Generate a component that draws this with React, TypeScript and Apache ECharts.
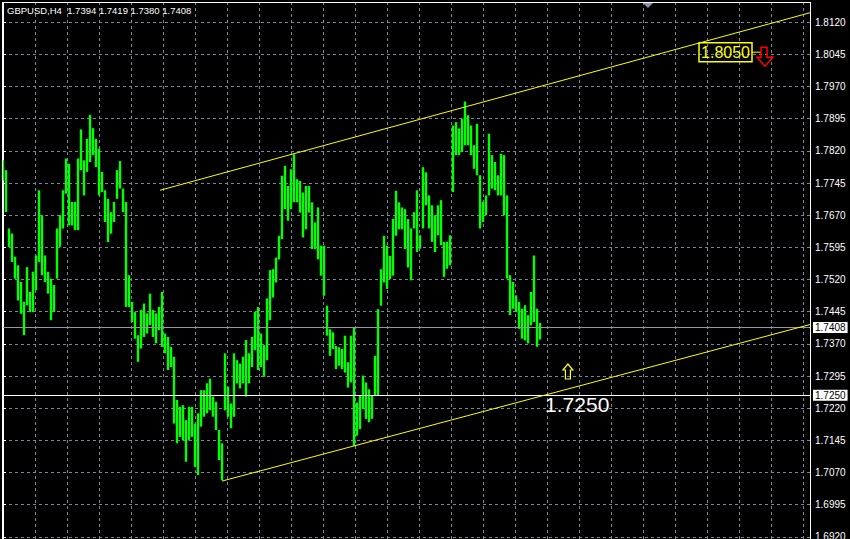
import React, { useEffect, useRef } from "react";
import * as echarts from "echarts";

// ---- data ----
const SYMBOL = "GBPUSD,H4";
const LAST_OHLC = [1.7394, 1.7419, 1.738, 1.7408];

// bar highs / lows (oldest -> newest)
const barHigh = [
  1.7798,
  1.7775, 1.7639, 1.7627, 1.7573, 1.7553, 1.7514, 1.7468, 1.7549, 1.7491,
  1.7538, 1.7576, 1.7728, 1.767, 1.7576, 1.7538, 1.7522, 1.7507, 1.7639, 1.767,
  1.7728, 1.7802, 1.779, 1.7701, 1.7701, 1.7802, 1.787, 1.7798, 1.7848, 1.7904,
  1.7873, 1.7848, 1.7825, 1.7771, 1.7728, 1.7708, 1.7677, 1.7701, 1.7775, 1.7796,
  1.7732, 1.7701, 1.753, 1.7468, 1.7444, 1.739,
  1.7449, 1.7464, 1.7441, 1.7487, 1.7449, 1.7441, 1.7456, 1.7491, 1.7394, 1.7386,
  1.7363, 1.734, 1.7239, 1.7223, 1.7227, 1.7192, 1.7223, 1.7223, 1.7184, 1.7208,
  1.7262, 1.7262, 1.7278, 1.7289, 1.7247, 1.7235, 1.7169, 1.7138, 1.7348, 1.727,
  1.7231, 1.7348, 1.7332, 1.7324, 1.734, 1.7379, 1.7348, 1.7386, 1.7445, 1.7456,
  1.7394, 1.7367, 1.7476, 1.7542,
  1.7544, 1.7571, 1.7622, 1.7762, 1.7785, 1.7738, 1.7777, 1.7812, 1.7754, 1.775,
  1.7723, 1.7738, 1.7738, 1.77, 1.7653, 1.7688, 1.7599, 1.7599, 1.7459, 1.7404,
  1.7397, 1.7365, 1.7362, 1.7358, 1.7389, 1.7327, 1.7389, 1.7408, 1.7233, 1.7249,
  1.7296, 1.728, 1.7264, 1.7249, 1.7342, 1.7451, 1.7544, 1.7622, 1.7599, 1.7575,
  1.7661, 1.7727, 1.77, 1.7688, 1.7684, 1.7661,
  1.7639, 1.7677, 1.7728, 1.7623, 1.7782, 1.777, 1.7716, 1.7693, 1.767, 1.7693,
  1.7705, 1.7608, 1.7608, 1.7623, 1.7879, 1.7887, 1.7872, 1.7895, 1.7935, 1.7903,
  1.7879, 1.7833, 1.7883, 1.7763, 1.7701, 1.7716, 1.786, 1.781, 1.7794, 1.7763,
  1.7813, 1.781, 1.7716, 1.753, 1.7514, 1.7483, 1.7468, 1.7452, 1.746, 1.7437,
  1.7491, 1.7576, 1.7452, 1.7419,
];
const barLow = [
  1.7751,
  1.7677, 1.7596, 1.7561, 1.7522, 1.7471, 1.744, 1.739, 1.746, 1.7444,
  1.7444, 1.7495, 1.7561, 1.753, 1.7514, 1.7487, 1.7425, 1.7444, 1.7522, 1.7596,
  1.7639, 1.772, 1.7646, 1.7646, 1.7635, 1.7635, 1.7775, 1.7716, 1.7771, 1.7794,
  1.781, 1.7782, 1.7716, 1.7724, 1.7654, 1.7607, 1.7627, 1.7654, 1.7708, 1.7732,
  1.7677, 1.7456, 1.7456, 1.7421, 1.7382, 1.7328,
  1.7359, 1.7386, 1.7394, 1.7414, 1.7386, 1.7371, 1.7402, 1.7363, 1.7348, 1.7309,
  1.7316, 1.7184, 1.7138, 1.7153, 1.7145, 1.7095, 1.7145, 1.7153, 1.7083, 1.7064,
  1.7177, 1.72, 1.7208, 1.7215, 1.72, 1.7169, 1.7099, 1.7052, 1.7215, 1.72,
  1.7173, 1.72, 1.7278, 1.7266, 1.7278, 1.7247, 1.7278, 1.7316, 1.7355, 1.7309,
  1.7316, 1.7293, 1.7332, 1.7425,
  1.7478, 1.7513, 1.7567, 1.7614, 1.7684, 1.7657, 1.7684, 1.77, 1.77, 1.7676,
  1.7618, 1.7637, 1.7676, 1.7591, 1.7591, 1.7567, 1.7529, 1.7482, 1.7389, 1.7342,
  1.7358, 1.7311, 1.7319, 1.7311, 1.7303, 1.7268, 1.728, 1.7132, 1.7156, 1.7171,
  1.7218, 1.7195, 1.7187, 1.7195, 1.7249, 1.7249, 1.7459, 1.7513, 1.7498, 1.7521,
  1.7529, 1.7622, 1.7637, 1.7637, 1.7591, 1.7548,
  1.7518, 1.7639, 1.7584, 1.7592, 1.7639, 1.7693, 1.7639, 1.7608, 1.7584, 1.7623,
  1.76, 1.7526, 1.7545, 1.7553, 1.7724, 1.781, 1.781, 1.7817, 1.7833, 1.7833,
  1.781, 1.7778, 1.7763, 1.7639, 1.7654, 1.767, 1.7716, 1.7732, 1.7728, 1.7716,
  1.7716, 1.767, 1.7522, 1.7437, 1.7452, 1.7444, 1.7405, 1.7382, 1.7378, 1.7371,
  1.7413, 1.7421, 1.7363, 1.738,
];

// price axis: tick step and range (range extends a step beyond the visible window)
const Y_STEP = 0.0075;
const Y_MIN = 1.6845;
const Y_MAX = 1.8195;
// time axis (in bars): grid every 32/3 bars
const X_STEP = 32 / 3;
const X_MAX = 269;

// objects on the chart (bar index, price)
const BID = 1.7408;
const LEVEL = 1.725;
const upperTrend = [[52.33, 1.7728], [269, 1.8142]];
const lowerTrend = [[73, 1.705], [269, 1.7415]];
const targetLabel = { text: "1.8050", bar: 232, price: 1.805 };
const levelText = { text: "1.7250", bar: 180.7, price: 1.725 };
const upArrow = { bar: 188.3, price: 1.7323 };

const FONT = "'Liberation Sans', Arial, sans-serif";
const GRID_COLOR = "#778899";
const OFF = 10; // the chart canvas starts 10px above the page
const CHART_H = 579;

export default function App() {
  const ref = useRef<HTMLDivElement>(null);
  useEffect(() => {
    const chart = echarts.init(ref.current!, null, { renderer: "svg" });
    const bars = barHigh.map((h, i) => [i, h, barLow[i]]);
    const splitLine = {
      show: true,
      showMinLine: false,
      showMaxLine: false,
      lineStyle: { color: GRID_COLOR, type: [3, 3], width: 1 },
    };
    const boxLabel = (txt: string) => ({
      show: true,
      position: "end",
      distance: 3,
      formatter: txt,
      color: "#000",
      backgroundColor: "#fff",
      padding: [1, 2, 0, 2],
      fontSize: 10,
      fontFamily: FONT,
    });
    chart.setOption({
      animation: false,
      backgroundColor: "#000",
      grid: { left: 3, right: 40, top: 0, bottom: 0, containLabel: false, outerBoundsMode: "none" },
      xAxis: {
        type: "value",
        min: 0,
        max: X_MAX,
        interval: X_STEP,
        axisLine: { show: false },
        axisTick: { show: false },
        axisLabel: { show: false },
        splitLine,
      },
      yAxis: {
        type: "value",
        position: "right",
        min: Y_MIN,
        max: Y_MAX,
        interval: Y_STEP,
        axisLine: { show: true, lineStyle: { color: "#ffffff", width: 1 } },
        axisTick: { show: true, length: 3, lineStyle: { color: "#ffffff" } },
        axisLabel: {
          color: "#ffffff",
          fontSize: 10,
          fontFamily: FONT,
          margin: 5,
          showMinLabel: false,
          showMaxLabel: false,
          formatter: (v: number) => v.toFixed(4),
        },
        splitLine,
      },
      series: [
        {
          type: "line",
          data: [],
          z: 2,
          silent: true,
          markLine: {
            silent: true,
            precision: 4,
            symbol: ["none", "none"],
            animation: false,
            lineStyle: { color: "#8f98a3", type: "solid", width: 1 },
            label: boxLabel(BID.toFixed(4)),
            data: [{ yAxis: BID }],
          },
        },
        {
          type: "custom",
          z: 3,
          silent: true,
          data: bars,
          encode: { x: 0, y: [1, 2] },
          renderItem: (params: any, api: any) => {
            const x = api.value(0);
            const p1 = api.coord([x, api.value(1)]);
            const p2 = api.coord([x, api.value(2)]);
            return {
              type: "rect",
              shape: { x: p1[0] - 1.2, y: p1[1], width: 2.4, height: Math.max(1, p2[1] - p1[1]) },
              style: { fill: "#00ff00" },
            };
          },
        },
        {
          type: "line",
          data: [],
          z: 4,
          silent: true,
          markLine: {
            silent: true,
            precision: 4,
            symbol: ["none", "none"],
            animation: false,
            lineStyle: { color: "#ffffff", type: "solid", width: 1 },
            label: boxLabel(LEVEL.toFixed(4)),
            data: [{ yAxis: LEVEL }],
          },
        },
        {
          type: "line",
          data: upperTrend,
          z: 5,
          silent: true,
          symbol: "none",
          lineStyle: { color: "#ffff00", width: 1 },
        },
        {
          type: "line",
          data: lowerTrend,
          z: 5,
          silent: true,
          symbol: "none",
          lineStyle: { color: "#ffff00", width: 1 },
        },
      ],
    });

    const px = (u: number, v: number) => chart.convertToPixel({ gridIndex: 0 }, [u, v]) as number[];
    const [bx, by] = px(targetLabel.bar, targetLabel.price);
    const boxW = 53;
    const boxH = 19;
    const ax = bx + boxW + 5;
    const ay = by - 5;
    const [tx, ty] = px(levelText.bar, levelText.price);
    const [ux, uy] = px(upArrow.bar, upArrow.price);
    const headerText = `${SYMBOL}  ${LAST_OHLC.map((v) => v.toFixed(4)).join(" ")}`;

    chart.setOption({
      graphic: [
        { type: "rect", z: 20, shape: { x: 0, y: 0, width: 850, height: OFF + 2 }, style: { fill: "#000" } },
        { type: "line", z: 21, shape: { x1: 2, y1: OFF + 2.5, x2: 810, y2: OFF + 2.5 }, style: { stroke: "#fff", lineWidth: 1 } },
        { type: "line", z: 21, shape: { x1: 2.5, y1: OFF + 2, x2: 2.5, y2: CHART_H }, style: { stroke: "#fff", lineWidth: 1 } },
        { type: "line", z: 21, shape: { x1: 810.5, y1: OFF + 2, x2: 810.5, y2: CHART_H }, style: { stroke: "#fff", lineWidth: 1 } },
        {
          type: "polygon",
          z: 21,
          shape: { points: [[643, OFF + 3], [653, OFF + 3], [648, OFF + 8]] },
          style: { fill: "#8896a8" },
        },
        {
          type: "text",
          z: 21,
          x: 7,
          y: OFF + 10,
          style: {
            text: headerText,
            fill: "#fff",
            font: `9.5px ${FONT}`,
            textAlign: "left",
            textVerticalAlign: "middle",
            align: "left",
            verticalAlign: "middle",
          },
        },
        {
          type: "rect",
          z: 21,
          shape: { x: bx, y: by - boxH / 2, width: boxW, height: boxH },
          style: { fill: "none", stroke: "#ffff00", lineWidth: 1.5 },
        },
        {
          type: "text",
          z: 21,
          x: bx + boxW / 2,
          y: by,
          style: {
            text: targetLabel.text,
            fill: "#ffff00",
            font: "16px 'Liberation Sans', Arial, sans-serif",
            textAlign: "center",
            textVerticalAlign: "middle",
            align: "center",
            verticalAlign: "middle",
          },
        },
        {
          type: "line",
          z: 21,
          shape: { x1: bx + boxW, y1: by, x2: ax + 4, y2: by },
          style: { stroke: "#ffff00", lineWidth: 1 },
        },
        {
          type: "polygon",
          z: 21,
          shape: {
            points: [
              [ax + 4, ay], [ax + 10, ay], [ax + 10, ay + 10], [ax + 16, ay + 10],
              [ax + 8, ay + 19], [ax, ay + 10], [ax + 4, ay + 10],
            ],
          },
          style: { fill: "none", stroke: "#ff0000", lineWidth: 1.5 },
        },
        {
          type: "polygon",
          z: 21,
          shape: {
            points: [
              [ux, uy], [ux + 5, uy + 6], [ux + 2.5, uy + 6], [ux + 2.5, uy + 15],
              [ux - 2.5, uy + 15], [ux - 2.5, uy + 6], [ux - 5, uy + 6],
            ],
          },
          style: { fill: "none", stroke: "#ffff00", lineWidth: 1.2 },
        },
        {
          type: "text",
          z: 21,
          x: tx,
          y: ty + 9,
          style: {
            text: levelText.text,
            fill: "#fff",
            font: "21px 'Liberation Sans', Arial, sans-serif",
            textAlign: "left",
            textVerticalAlign: "middle",
            align: "left",
            verticalAlign: "middle",
          },
        },
      ],
    });
    return () => chart.dispose();
  }, []);
  return (
    <div style={{ position: "fixed", left: 0, top: 0, width: 850, height: 539, overflow: "hidden", background: "#000" }}>
      <div
        ref={ref}
        style={{ position: "absolute", left: 0, top: -OFF, width: 850, height: CHART_H, background: "#000" }}
      />
    </div>
  );
}
